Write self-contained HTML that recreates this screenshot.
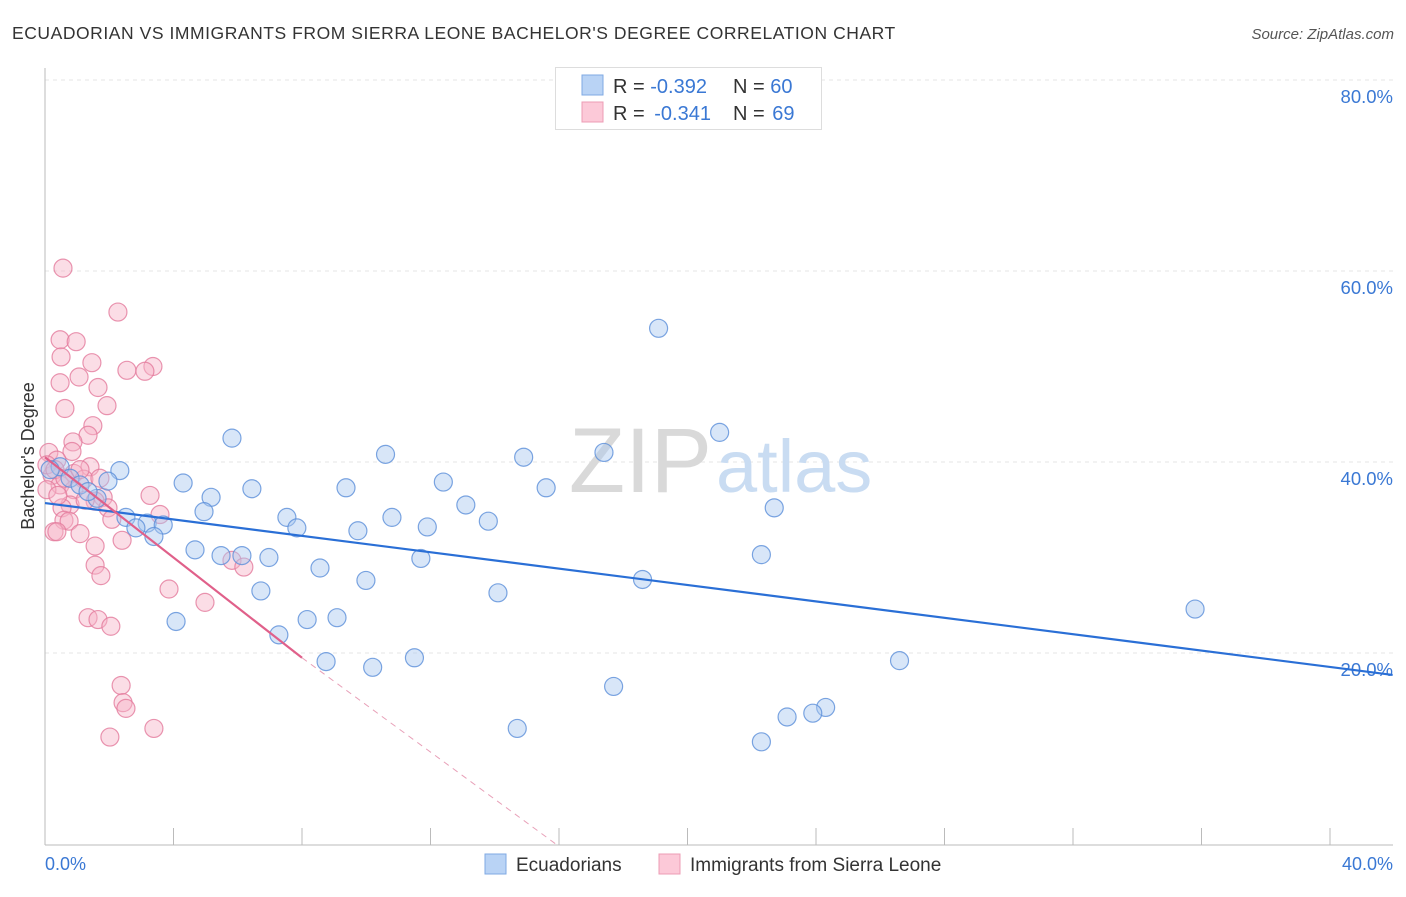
<!DOCTYPE html>
<html><head><meta charset="utf-8"><style>
body{margin:0;background:#fff;font-family:"Liberation Sans",sans-serif;}
svg text{font-family:"Liberation Sans",sans-serif;}
</style></head><body>
<svg width="1406" height="892" xmlns="http://www.w3.org/2000/svg">
<text x="12" y="39" font-size="17.5" letter-spacing="0.55" fill="#333">ECUADORIAN VS IMMIGRANTS FROM SIERRA LEONE BACHELOR'S DEGREE CORRELATION CHART</text>
<text x="1394" y="39" font-size="15" fill="#555" font-style="italic" text-anchor="end">Source: ZipAtlas.com</text>
<g id="grid"></g>
<g id="yt"></g>
<g id="xt"></g>
<text x="712" y="492" font-size="92" font-family="Liberation Serif" fill="#d9d9d9" text-anchor="end">ZIP</text>
<text x="716" y="492" font-size="74" fill="#c9dcf2">atlas</text>
<line x1="45" y1="68" x2="45" y2="845" stroke="#bbb" stroke-width="1"/>
<line x1="45" y1="845" x2="1393" y2="845" stroke="#bbb" stroke-width="1"/>
<g id="pink"></g>
<g id="blue"></g>
<g id="lines"></g>
<text transform="translate(34,456) rotate(-90)" font-size="18" fill="#333" text-anchor="middle">Bachelor's Degree</text>
<text x="45" y="870" font-size="18" fill="#3a78d4">0.0%</text>
<text x="1393" y="870" font-size="18" fill="#3a78d4" text-anchor="end">40.0%</text>
<g>
<rect x="555.5" y="67.5" width="266" height="62" fill="#fff" stroke="#ddd"/>
<rect x="582" y="75" width="21" height="20" fill="#b9d3f5" stroke="#7fa9e3"/>
<rect x="582" y="102" width="21" height="20" fill="#fcc9d8" stroke="#ec9cb5"/>
<text x="613" y="93" font-size="20" fill="#333">R = <tspan fill="#3a78d4">-0.392</tspan><tspan x="733">N = </tspan><tspan fill="#3a78d4">60</tspan></text>
<text x="613" y="120" font-size="20" fill="#333">R = <tspan fill="#3a78d4" dx="4">-0.341</tspan><tspan x="733">N = </tspan><tspan fill="#3a78d4" dx="2">69</tspan></text>
</g>
<g>
<rect x="485" y="854" width="21" height="20" fill="#b9d3f5" stroke="#7fa9e3"/>
<text x="516" y="871" font-size="19" fill="#333">Ecuadorians</text>
<rect x="659" y="854" width="21" height="20" fill="#fcc9d8" stroke="#ec9cb5"/>
<text x="690" y="871" font-size="19" fill="#333">Immigrants from Sierra Leone</text>
</g>
</svg>
<script>
const yTicks=[20,40,60,80];
const yTickLabels=["20.0%","40.0%","60.0%","80.0%"];
const xTicks=[0,4,8,12,16,20,24,28,32,36,40];
const blueX=[19.1,5.82,21.0,10.6,17.4,14.9,2.33,0.47,1.96,4.30,12.4,6.44,9.37,15.6,5.17,1.62,13.1,4.95,22.7,2.52,7.53,10.8,13.8,3.18,3.68,7.84,11.9,2.83,9.74,3.39,4.67,5.48,6.13,6.97,11.7,22.3,8.56,9.99,18.6,6.72,14.1,4.08,8.16,9.09,35.8,7.28,8.75,10.2,11.5,26.6,17.7,24.3,23.9,23.1,14.7,22.3,0.16,0.78,1.09,1.34];
const blueY=[54.0,42.5,43.1,40.8,41.0,40.5,39.1,39.5,38.0,37.8,37.9,37.2,37.3,37.3,36.3,36.2,35.5,34.8,35.2,34.2,34.2,34.2,33.8,33.6,33.4,33.1,33.2,33.1,32.8,32.2,30.8,30.2,30.2,30.0,29.9,30.3,28.9,27.6,27.7,26.5,26.3,23.3,23.5,23.7,24.6,21.9,19.1,18.5,19.5,19.2,16.5,14.3,13.7,13.3,12.1,10.7,39.2,38.3,37.6,36.9];
const pinkX=[0.56,2.27,0.47,0.97,0.50,1.46,3.36,2.55,3.11,1.06,0.47,1.65,0.62,1.93,1.49,1.34,0.87,0.12,0.84,0.37,1.40,0.90,0.22,1.21,0.47,3.27,1.81,0.90,0.78,1.56,1.96,0.53,3.58,2.08,0.59,0.75,0.28,0.37,1.09,2.40,1.56,5.82,6.19,1.56,1.74,3.86,4.98,1.34,1.65,2.05,2.37,2.43,2.52,3.39,2.02,0.06,0.31,0.62,1.09,1.71,1.25,0.06,0.40];
const pinkY=[60.3,55.7,52.8,52.6,51.0,50.4,50.0,49.6,49.5,48.9,48.3,47.8,45.6,45.9,43.8,42.8,42.1,41.0,41.1,40.2,39.5,38.8,38.6,38.2,37.6,36.5,36.3,37.1,35.5,35.9,35.2,35.2,34.5,34.0,33.9,33.8,32.7,32.7,32.5,31.8,31.2,29.7,29.0,29.2,28.1,26.7,25.3,23.7,23.5,22.8,16.6,14.8,14.2,12.1,11.2,39.7,39.2,38.3,39.2,38.3,36.0,37.1,36.5];
const blueTrend=[[0,35.7],[41.95,17.7]];
const pinkTrendSolid=[[0,40.5],[8.0,19.5]];
const pinkTrendDash=[[8.0,19.5],[15.9,0]];
const NS="http://www.w3.org/2000/svg";
const sx=v=>45+v*1285/40;
const sy=v=>844-v*191/20;
function mk(t,a,p){const e=document.createElementNS(NS,t);for(const k in a)e.setAttribute(k,a[k]);p.appendChild(e);return e;}
const grid=document.getElementById('grid'),yt=document.getElementById('yt'),xt=document.getElementById('xt');
yTicks.forEach((v,i)=>{
  const l=mk('line',{x1:45,x2:1393,y1:sy(v),y2:sy(v),stroke:'#e6e6e6','stroke-dasharray':'4,4'},grid);
  
  
  const t=mk('text',{x:1393,y:sy(v)+23,'font-size':18.5,fill:'#3a78d4','text-anchor':'end'},yt);
  t.textContent=yTickLabels[i];
  
  
});
xTicks.forEach(v=>{
  const l=mk('line',{x1:sx(v),x2:sx(v),y1:828,y2:845,stroke:'#bbb'},xt);
  
  
});
function pts(xs,ys,g,fill,stroke,name){
  xs.forEach((x,i)=>{
    const c=mk('circle',{cx:sx(x),cy:sy(ys[i]),r:9,fill:fill,'fill-opacity':0.45,stroke:stroke,'stroke-width':1.2,'stroke-opacity':0.8},g);
    
    
  });
}
pts(pinkX,pinkY,document.getElementById('pink'),'#f7b3c7','#e47a9c','sierra-leone-point');
pts(blueX,blueY,document.getElementById('blue'),'#a9c8f0','#5b8fd9','ecuadorian-point');
const lg=document.getElementById('lines');
function ln(p,stroke,w,dash,name){
  const a={x1:sx(p[0][0]),y1:sy(p[0][1]),x2:sx(p[1][0]),y2:sy(p[1][1]),stroke:stroke,'stroke-width':w};
  if(dash)a['stroke-dasharray']=dash;
  const l=mk('line',a,lg);
  
  
}
ln(blueTrend,'#2a6fd6',2.2,null,'ecuadorian-trend-line');
ln(pinkTrendSolid,'#e0608a',2.2,null,'sierra-leone-trend-line');
ln(pinkTrendDash,'#e8a0b8',1,'6,5','sierra-leone-trend-extension');
</script>
</body></html>
